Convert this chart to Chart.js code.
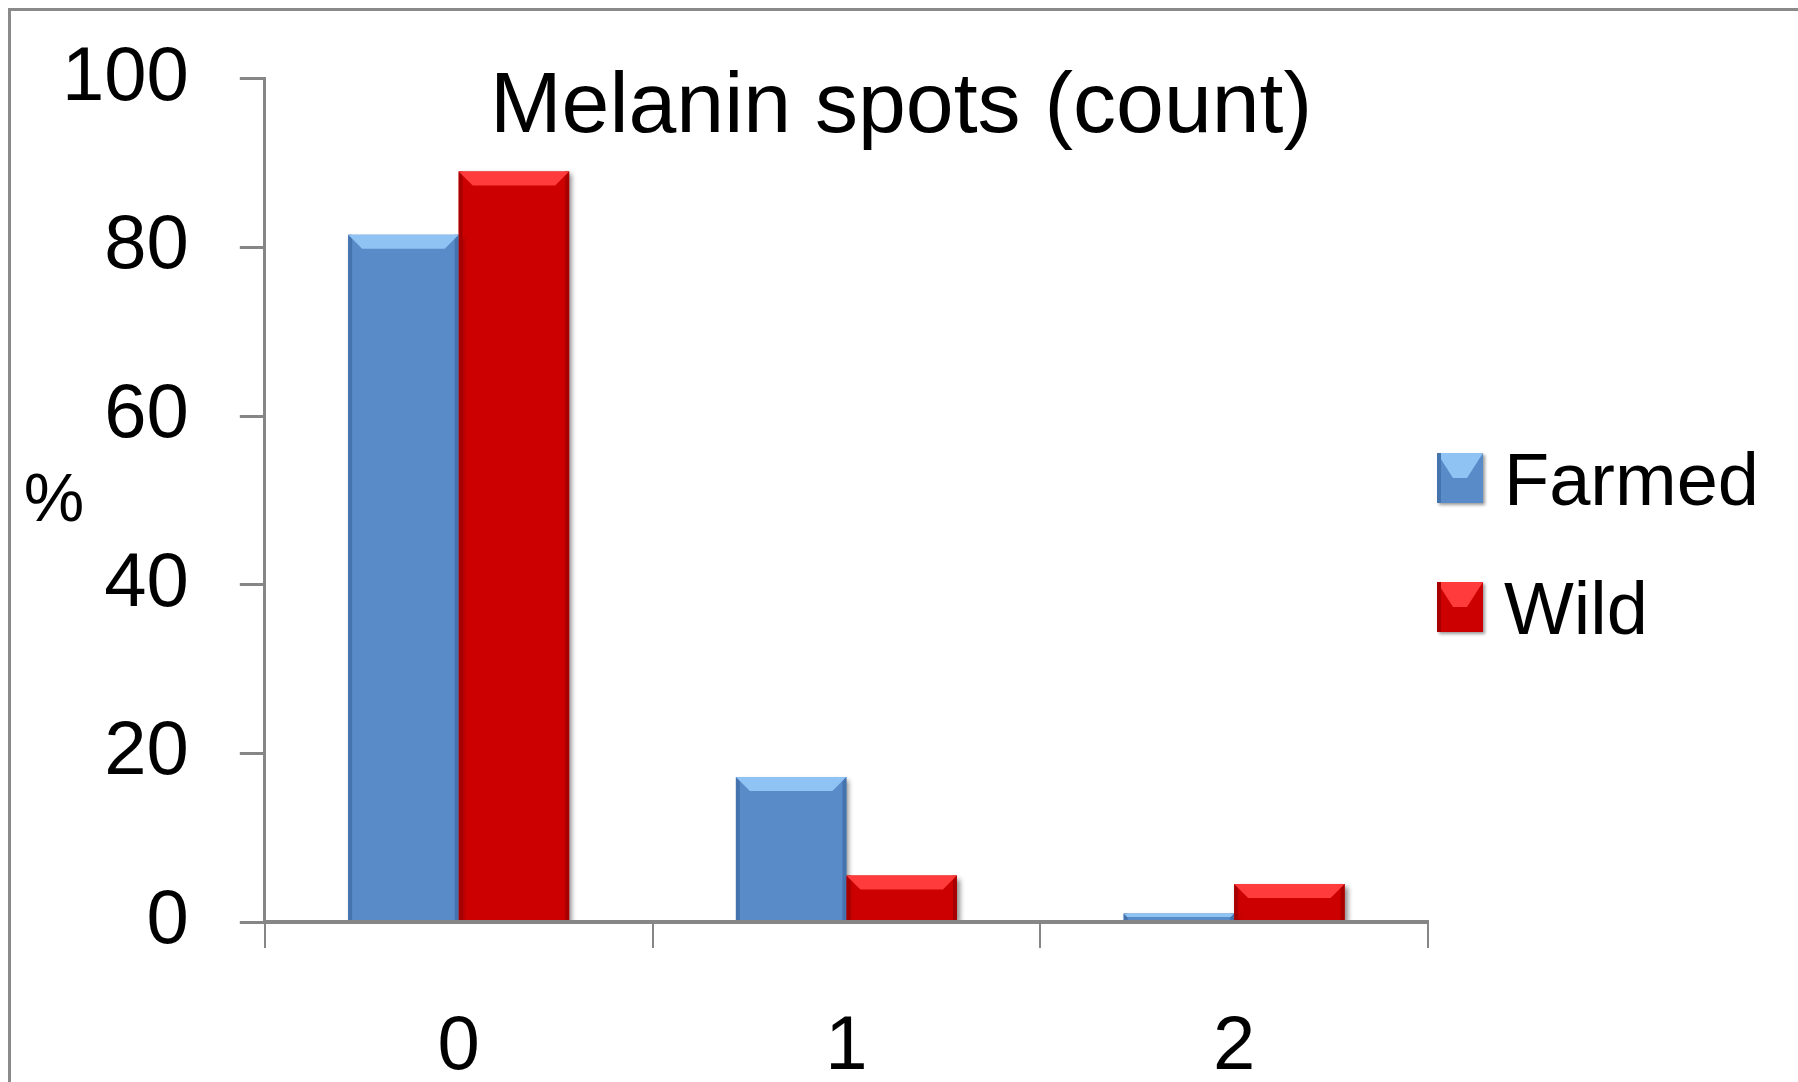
<!DOCTYPE html>
<html>
<head>
<meta charset="utf-8">
<script src="https://cdn.jsdelivr.net/npm/chart.js@4.4.0/dist/chart.umd.min.js"></script>
<style>
  html, body { margin: 0; padding: 0; background: #fff; overflow: hidden; }
  #frame {
    position: absolute; left: 8px; top: 8px;
    width: 1820px; height: 1120px;
    border: 3px solid #8a8a8a;
  }
  #wrap { position: absolute; left: 0; top: 0; width: 1798px; height: 1082px; }
</style>
</head>
<body>
<div id="frame"></div>
<div id="wrap"><canvas id="spotsChart" width="1798" height="1082"></canvas></div>
<script>
// data
const categories = ['0', '1', '2'];
const farmedValues = [81.5, 17.2, 1.0];
const wildValues = [89.0, 5.5, 4.5];
const yTicks = [0, 20, 40, 60, 80, 100];
const chartTitle = 'Melanin spots (count)';

const FONT = "'Liberation Sans', Arial, sans-serif";
const AXIS_GREY = '#868686';

// colours per series: main, light top face, dark edges
const palette = {
  Farmed: { main: '#5a8bc9', light: '#8ec3f3', dark: '#4573ae' },
  Wild:   { main: '#cc0000', light: '#ff3b3b', dark: '#a80000' }
};

// soft drop shadow under the bars + bevel look
const barShadow = {
  id: 'barShadow',
  beforeDatasetsDraw(chart) {
    const ctx = chart.ctx;
    ctx.save();
    ctx.shadowColor = 'rgba(0,0,0,0.45)';
    ctx.shadowBlur = 5;
    ctx.shadowOffsetX = 3;
    ctx.shadowOffsetY = 3;
  },
  afterDatasetsDraw(chart) {
    const ctx = chart.ctx;
    ctx.restore();

    chart.data.datasets.forEach((ds, i) => {
      const col = palette[ds.label];
      chart.getDatasetMeta(i).data.forEach(bar => {
        const p = bar.getProps(['x', 'y', 'base', 'width'], true);
        const left = p.x - p.width / 2, right = p.x + p.width / 2;
        const top = Math.min(p.y, p.base), bottom = Math.max(p.y, p.base);
        const b = Math.min(14, (bottom - top) / 2);
        ctx.save();
        // side edges
        ctx.fillStyle = col.dark;
        ctx.fillRect(left, top, 4, bottom - top);
        ctx.fillRect(right - 4, top, 4, bottom - top);
        // top face
        ctx.fillStyle = col.light;
        ctx.beginPath();
        ctx.moveTo(left, top);
        ctx.lineTo(right, top);
        ctx.lineTo(right - b, top + b);
        ctx.lineTo(left + b, top + b);
        ctx.closePath();
        ctx.fill();
        ctx.restore();
      });
    });
  }
};

// title over the plot, legend on the right and the unrotated "%" axis label
const sideText = {
  id: 'sideText',
  afterDraw(chart) {
    const ctx = chart.ctx;
    const area = chart.chartArea;
    ctx.save();
    ctx.fillStyle = '#000';

    ctx.textAlign = 'center';
    ctx.textBaseline = 'alphabetic';
    ctx.font = '86px ' + FONT;
    ctx.fillText(chartTitle, chart.width / 2 + 2, 132);

    ctx.textBaseline = 'middle';
    ctx.font = '68px ' + FONT;
    ctx.fillText('%', 54, 502);

    ctx.textAlign = 'left';
    ctx.textBaseline = 'alphabetic';
    ctx.font = '74px ' + FONT;
    chart.data.datasets.forEach((ds, i) => {
      const col = palette[ds.label];
      const bx = area.right + 9;
      const by = 453 + i * 129;
      ctx.save();
      ctx.shadowColor = 'rgba(0,0,0,0.4)';
      ctx.shadowBlur = 3;
      ctx.shadowOffsetX = 2;
      ctx.shadowOffsetY = 2;
      ctx.fillStyle = col.main;
      ctx.fillRect(bx, by, 46, 50);
      ctx.restore();
      ctx.fillStyle = col.light;
      ctx.beginPath();
      ctx.moveTo(bx, by); ctx.lineTo(bx + 46, by);
      ctx.lineTo(bx + 30, by + 25); ctx.lineTo(bx + 16, by + 25);
      ctx.closePath(); ctx.fill();
      ctx.fillStyle = col.dark;
      ctx.fillRect(bx, by, 4, 50);
      ctx.fillStyle = '#000';
      ctx.fillText(ds.label, area.right + 76, by + 52);
    });
    ctx.restore();
  }
};

const ctx = document.getElementById('spotsChart').getContext('2d');
new Chart(ctx, {
  type: 'bar',
  data: {
    labels: categories,
    datasets: [
      { label: 'Farmed', data: farmedValues, backgroundColor: palette.Farmed.main },
      { label: 'Wild', data: wildValues, backgroundColor: palette.Wild.main }
    ]
  },
  options: {
    responsive: false,
    animation: false,
    devicePixelRatio: 1,
    layout: { padding: { left: 11, right: 370, top: 0, bottom: -66 } },
    datasets: { bar: { barPercentage: 1.0, categoryPercentage: 0.57 } },
    plugins: {
      legend: { display: false },
      tooltip: { enabled: false },
      title: { display: false }
    },
    scales: {
      x: {
        grid: { display: true, drawOnChartArea: false, drawTicks: true, tickLength: 26, color: AXIS_GREY, lineWidth: 2, offset: true },
        border: { display: true, color: AXIS_GREY, width: 4, z: 1 },
        ticks: { color: '#000', padding: 62, font: { family: FONT, size: 76, lineHeight: 1 } }
      },
      y: {
        min: 0,
        max: 100,
        afterBuildTicks: scale => { scale.ticks = yTicks.map(v => ({ value: v })); },
        grid: { display: true, drawOnChartArea: false, drawTicks: true, tickLength: 25, color: AXIS_GREY, lineWidth: 3 },
        border: { display: true, color: AXIS_GREY, width: 3 },
        ticks: { color: '#000', padding: 51, font: { family: FONT, size: 76, lineHeight: 0.73 } }
      }
    }
  },
  plugins: [barShadow, sideText]
});
</script>
</body>
</html>
